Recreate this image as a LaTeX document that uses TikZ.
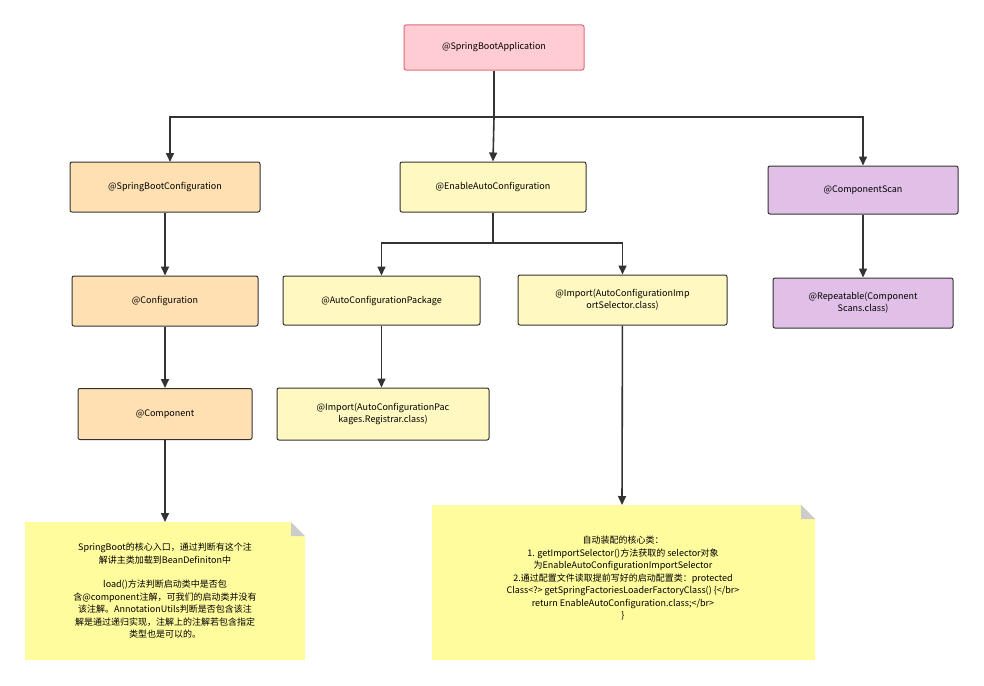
\documentclass[tikz,border=0pt]{standalone}
\usepackage{fontspec}
\setmainfont{Noto Sans CJK SC}
\usetikzlibrary{arrows.meta,positioning,shapes.misc}
\definecolor{pinkfill}{HTML}{FFCCD4}
\definecolor{pinkline}{HTML}{E06B78}
\definecolor{orangefill}{HTML}{FFE0B3}
\definecolor{yellowfill}{HTML}{FFF8C0}
\definecolor{purplefill}{HTML}{E1C0E8}
\definecolor{notefill}{HTML}{FFFC9E}
\definecolor{edgegray}{HTML}{333333}
\tikzset{
  box/.style={draw=edgegray,line width=1pt,rounded corners=2pt,align=center,
    font=\fontsize{9}{12}\selectfont,inner sep=2pt},
  link/.style={edgegray,line width=1.6pt,-{Triangle[length=9pt,width=8pt]}},
  note/.style={fill=notefill,align=center,font=\fontsize{9}{12.5}\selectfont}
}
\begin{document}
\begin{tikzpicture}[x=1pt,y=-1pt]
\useasboundingbox (0,0) rectangle (984,685);

\node[box,fill=pinkfill,draw=pinkline,minimum width=180pt,minimum height=45pt] (app) at (494,47.5) {@SpringBootApplication};

\node[box,fill=orangefill,minimum width=190pt,minimum height=50pt] (bootconf) at (165,187) {@SpringBootConfiguration};
\node[box,fill=orangefill,minimum width=186pt,minimum height=50pt] (conf) at (165,301) {@Configuration};
\node[box,fill=orangefill,minimum width=174pt,minimum height=51pt] (comp) at (165,414) {@Component};

\node[box,fill=yellowfill,minimum width=186pt,minimum height=50pt] (enable) at (493,187) {@EnableAutoConfiguration};
\node[box,fill=yellowfill,minimum width=197pt,minimum height=49pt] (pkg) at (381.5,300.5) {@AutoConfigurationPackage};
\node[box,fill=yellowfill,minimum width=209pt,minimum height=50pt] (selector) at (622.5,300) {@Import(AutoConfigurationImp\\ortSelector.class)};
\node[box,fill=yellowfill,minimum width=212pt,minimum height=52pt] (registrar) at (383,414) {@Import(AutoConfigurationPac\\kages.Registrar.class)};

\node[box,fill=purplefill,minimum width=190pt,minimum height=48pt] (scan) at (863,190) {@ComponentScan};
\node[box,fill=purplefill,minimum width=180pt,minimum height=50pt] (repeat) at (863,303) {@Repeatable(Component\\Scans.class)};

% notes with folded corner
\fill[notefill] (25,522) -- (291,522) -- (305,536) -- (305,660) -- (25,660) -- cycle;
\fill[black!20] (291,522) -- (305,536) -- (291,536) -- cycle;
\node[note] (note1) at (165,591) {SpringBoot的核心入口，通过判断有这个注\\解讲主类加载到BeanDefiniton中\\[12pt]load()方法判断启动类中是否包\\含@component注解，可我们的启动类并没有\\该注解。AnnotationUtils判断是否包含该注\\解是通过递归实现，注解上的注解若包含指定\\类型也是可以的。};
\coordinate (note1top) at (165,522);

\fill[notefill] (432,505) -- (801,505) -- (815,519) -- (815,660) -- (432,660) -- cycle;
\fill[black!20] (801,505) -- (815,519) -- (801,519) -- cycle;
\node[note] (note2) at (623,578) {自动装配的核心类：\\1. getImportSelector()方法获取的 selector对象\\为EnableAutoConfigurationImportSelector\\2.通过配置文件读取提前写好的启动配置类：protected\\Class<?> getSpringFactoriesLoaderFactoryClass() \{</br>\\return EnableAutoConfiguration.class;</br>\\\}};
\coordinate (note2top) at (622,505);

\coordinate (split1) at (494,117);
\coordinate (bootin) at (170,162);
\draw[link] (app.south) -- (split1) -| (bootin);
\draw[link] (split1) -- (enable.north);
\draw[link] (split1) -| (scan.north);
\draw[link] (bootconf) -- (conf);
\draw[link] (conf) -- (comp);
\draw[link] (comp) -- (note1top);

\coordinate (split2) at (493,243);
\draw[link] (enable.south) -- (split2) -| (pkg.north);
\draw[link] (split2) -| (selector.north);
\draw[link] (pkg) -- (registrar.north -| pkg.south);
\draw[link] (selector) -- (note2top);
\draw[link] (scan) -- (repeat);
\end{tikzpicture}
\end{document}
